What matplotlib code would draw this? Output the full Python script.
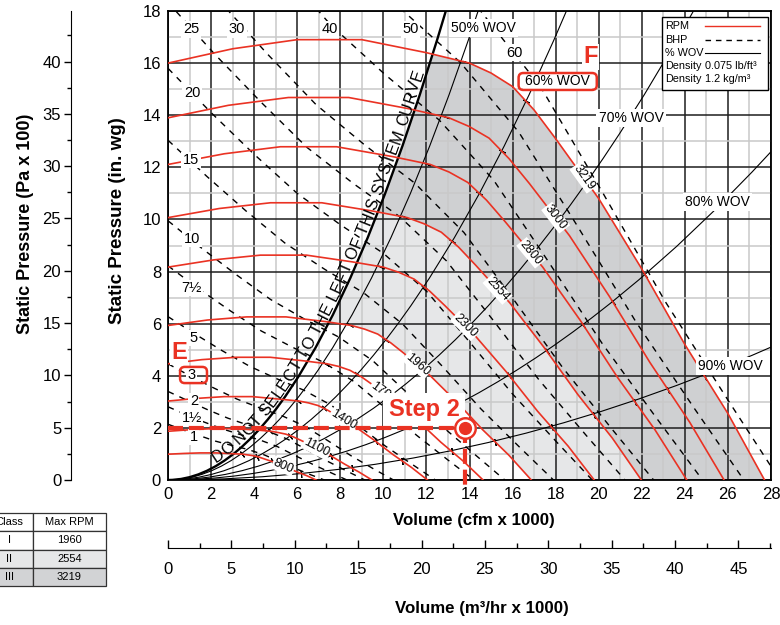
import numpy as np
import matplotlib
matplotlib.use("Agg")
import matplotlib.pyplot as plt
from matplotlib.path import Path
from matplotlib.patches import PathPatch, FancyBboxPatch, Rectangle
from matplotlib.lines import Line2D
from matplotlib.ticker import MultipleLocator
from matplotlib.font_manager import FontProperties

plt.rcParams['font.family'] = ['Liberation Sans', 'DejaVu Sans']

RED = '#ea3223'
DARK = '#cfd0d2'
LIGHT = '#e6e7e8'

# fan curves: volume (cfm x 1000) vs static pressure (in. wg)
rpm_values = [800, 1100, 1400, 1700, 1960, 2300, 2554, 2800, 3000, 3219]
q_800 = [0, 0.75, 1.49, 2.24, 2.98, 3.48, 3.73, 3.98, 4.22, 4.47, 4.97, 5.47, 5.96, 6.46, 6.88]
p_800 = [0.99, 1.02, 1.04, 1.04, 1.01, 0.99, 0.96, 0.93, 0.88, 0.81, 0.67, 0.50, 0.32, 0.16, 0]
q_1100 = [0, 1.03, 2.05, 3.08, 4.10, 4.78, 5.13, 5.47, 5.81, 6.15, 6.83, 7.52, 8.20, 8.88, 9.47]
p_1100 = [1.87, 1.93, 1.97, 1.97, 1.92, 1.87, 1.82, 1.76, 1.66, 1.53, 1.26, 0.95, 0.61, 0.30, 0]
q_1400 = [0, 1.30, 2.61, 3.91, 5.22, 6.09, 6.52, 6.96, 7.39, 7.83, 8.70, 9.57, 10.44, 11.31, 12.05]
p_1400 = [3.03, 3.13, 3.20, 3.20, 3.10, 3.03, 2.96, 2.86, 2.69, 2.48, 2.04, 1.53, 0.98, 0.48, 0]
q_1700 = [0, 1.58, 3.17, 4.75, 6.34, 7.39, 7.92, 8.45, 8.98, 9.51, 10.56, 11.62, 12.67, 13.73, 14.63]
p_1700 = [4.46, 4.62, 4.71, 4.71, 4.57, 4.46, 4.36, 4.21, 3.96, 3.65, 3.01, 2.26, 1.45, 0.71, 0]
q_1960 = [0, 1.83, 3.65, 5.48, 7.31, 8.52, 9.13, 9.74, 10.35, 10.96, 12.18, 13.40, 14.61, 15.83, 16.87]
p_1960 = [5.93, 6.14, 6.26, 6.26, 6.08, 5.93, 5.79, 5.60, 5.26, 4.86, 4.00, 3.00, 1.93, 0.95, 0]
q_2300 = [0, 2.14, 4.29, 6.43, 8.57, 10.00, 10.72, 11.43, 12.15, 12.86, 14.29, 15.72, 17.15, 18.58, 19.79]
p_2300 = [8.17, 8.45, 8.63, 8.63, 8.37, 8.17, 7.97, 7.71, 7.25, 6.69, 5.51, 4.14, 2.65, 1.30, 0]
q_2554 = [0, 2.38, 4.76, 7.14, 9.52, 11.11, 11.90, 12.69, 13.49, 14.28, 15.87, 17.45, 19.04, 20.63, 21.98]
p_2554 = [10.07, 10.42, 10.64, 10.64, 10.32, 10.07, 9.83, 9.51, 8.94, 8.25, 6.80, 5.10, 3.27, 1.61, 0]
q_2800 = [0, 2.61, 5.22, 7.83, 10.44, 12.18, 13.05, 13.92, 14.79, 15.66, 17.40, 19.14, 20.88, 22.61, 24.09]
p_2800 = [12.11, 12.52, 12.79, 12.79, 12.41, 12.11, 11.82, 11.42, 10.74, 9.91, 8.17, 6.13, 3.93, 1.93, 0]
q_3000 = [0, 2.80, 5.59, 8.39, 11.18, 13.05, 13.98, 14.91, 15.84, 16.78, 18.64, 20.50, 22.37, 24.23, 25.82]
p_3000 = [13.90, 14.38, 14.68, 14.68, 14.25, 13.90, 13.57, 13.12, 12.33, 11.38, 9.38, 7.04, 4.52, 2.21, 0]
q_3219 = [0, 3, 6, 9, 12, 14, 15, 16, 17, 18, 20, 22, 24, 26, 27.7]
p_3219 = [16.0, 16.55, 16.9, 16.9, 16.4, 16.0, 15.62, 15.1, 14.2, 13.1, 10.8, 8.1, 5.2, 2.55, 0]
rpm_label_q = [5.36, 6.9, 8.15, 10.0, 11.57, 13.8, 15.3, 16.85, 18.0, 19.3]

# brake horsepower lines
bhp_1_q = [0, 0.74, 1.47, 2.21, 2.95, 3.68, 4.42, 5.16, 5.89, 6.63, 7.26]
bhp_1_p = [2.14, 1.91, 1.70, 1.49, 1.33, 1.18, 0.98, 0.72, 0.45, 0.20, 0]
bhp_1_5_q = [0, 0.84, 1.69, 2.53, 3.37, 4.22, 5.06, 5.90, 6.75, 7.59, 8.31]
bhp_1_5_p = [2.81, 2.51, 2.22, 1.96, 1.74, 1.55, 1.29, 0.94, 0.59, 0.27, 0]
bhp_2_q = [0, 0.93, 1.86, 2.79, 3.71, 4.64, 5.57, 6.50, 7.43, 8.36, 9.14]
bhp_2_p = [3.40, 3.04, 2.69, 2.37, 2.11, 1.87, 1.56, 1.14, 0.71, 0.32, 0]
bhp_3_q = [0, 1.06, 2.13, 3.19, 4.25, 5.31, 6.38, 7.44, 8.50, 9.56, 10.47]
bhp_3_p = [4.46, 3.98, 3.53, 3.11, 2.77, 2.46, 2.05, 1.50, 0.93, 0.42, 0]
bhp_5_q = [0, 1.26, 2.52, 3.78, 5.04, 6.30, 7.56, 8.82, 10.08, 11.34, 12.41]
bhp_5_p = [6.27, 5.60, 4.96, 4.37, 3.89, 3.45, 2.88, 2.10, 1.31, 0.60, 0]
bhp_7_5_q = [0, 1.44, 2.88, 4.33, 5.77, 7.21, 8.65, 10.10, 11.54, 12.98, 14.21]
bhp_7_5_p = [8.22, 7.33, 6.50, 5.72, 5.10, 4.52, 3.77, 2.76, 1.72, 0.78, 0]
bhp_10_q = [0, 1.59, 3.17, 4.76, 6.35, 7.94, 9.52, 11.11, 12.70, 14.29, 15.64]
bhp_10_p = [9.95, 8.88, 7.88, 6.93, 6.17, 5.48, 4.57, 3.34, 2.08, 0.95, 0]
bhp_15_q = [0, 1.82, 3.63, 5.45, 7.27, 9.09, 10.90, 12.72, 14.54, 16.35, 17.90]
bhp_15_p = [13.04, 11.64, 10.32, 9.08, 8.09, 7.18, 5.98, 4.38, 2.72, 1.24, 0]
bhp_20_q = [0, 2, 4, 6, 8, 10, 12, 14, 16, 18, 19.7]
bhp_20_p = [15.8, 14.1, 12.5, 11.0, 9.8, 8.7, 7.25, 5.3, 3.3, 1.5, 0]
bhp_25_q = [0, 2.15, 4.31, 6.46, 8.62, 10.77, 12.93, 15.08, 17.24, 19.39, 21.22]
bhp_25_p = [18.33, 16.36, 14.51, 12.76, 11.37, 10.10, 8.41, 6.15, 3.83, 1.74, 0]
bhp_30_q = [2.29, 4.58, 6.87, 9.16, 11.45, 13.74, 16.03, 18.32, 20.60, 22.55]
bhp_30_p = [18.48, 16.38, 14.41, 12.84, 11.40, 9.50, 6.95, 4.32, 1.97, 0]
bhp_40_q = [5.04, 7.56, 10.08, 12.60, 15.12, 17.64, 20.16, 22.68, 24.82]
bhp_40_p = [19.84, 17.46, 15.56, 13.81, 11.51, 8.41, 5.24, 2.38, 0]
bhp_50_q = [8.14, 10.86, 13.57, 16.29, 19.00, 21.72, 24.43, 26.74]
bhp_50_p = [20.26, 18.05, 16.03, 13.35, 9.76, 6.08, 2.76, 0]
bhp_60_q = [11.54, 14.42, 17.31, 20.19, 23.08, 25.96, 28.41]
bhp_60_p = [20.38, 18.10, 15.08, 11.02, 6.86, 3.12, 0]
bhp_labels = ['1', '1½', '2', '3', '5', '7½', '10', '15', '20', '25', '30', '40', '50', '60']
bhp_label_q = [1.2, 1.1, 1.2, 1.1, 1.2, 1.1, 1.12, 1.07, 1.12, 1.07, 3.2, 7.5, 11.26, 16.1]
bhp_label_p = [1.65, 2.38, 3.03, 4.03, 5.45, 7.37, 9.25, 12.28, 14.85, 17.3, 17.3, 17.3, 17.3, 16.4]

# % wide open volume system curves (end points where they leave the grid)
wov_pct = [0.5, 0.6, 0.7, 0.8, 0.9]
wov_labels = ['50% WOV', '60% WOV', '70% WOV', '80% WOV', '90% WOV']
wov_end_q = [14.4, 18.5, 24.4, 28.0, 28.0]
wov_end_p = [18.0, 18.0, 18.0, 12.6, 5.1]
wov_label_q = [14.65, 18.09, 21.5, 25.5, 26.1]
wov_label_p = [17.35, 15.3, 13.9, 10.67, 4.38]

# limit system curve
sys_end_q, sys_end_p = 12.9, 18.0

# selected operating point (Step 2)
step_q, step_p = 13.8, 2.0

table_class = ['I', 'II', 'III']
table_rpm = ['1960', '2554', '3219']

fan_q = [q_800, q_1100, q_1400, q_1700, q_1960, q_2300, q_2554, q_2800, q_3000, q_3219]
fan_p = [p_800, p_1100, p_1400, p_1700, p_1960, p_2300, p_2554, p_2800, p_3000, p_3219]
bhp_q = [bhp_1_q, bhp_1_5_q, bhp_2_q, bhp_3_q, bhp_5_q, bhp_7_5_q, bhp_10_q,
         bhp_15_q, bhp_20_q, bhp_25_q, bhp_30_q, bhp_40_q, bhp_50_q, bhp_60_q]
bhp_p = [bhp_1_p, bhp_1_5_p, bhp_2_p, bhp_3_p, bhp_5_p, bhp_7_5_p, bhp_10_p,
         bhp_15_p, bhp_20_p, bhp_25_p, bhp_30_p, bhp_40_p, bhp_50_p, bhp_60_p]


def parabola(q_end, p_end):
    # system curve through the origin as a quadratic bezier
    return Path([(0, 0), (q_end / 2, 0), (q_end, p_end)],
                [Path.MOVETO, Path.CURVE3, Path.CURVE3])


fig = plt.figure(figsize=(7.8, 6.25), dpi=100)
ax = fig.add_axes([168 / 780, 1 - 480 / 625, 603 / 780, 469 / 625])
ax.set_xlim(0, 28)
ax.set_ylim(0, 18)

# grid
ax.set_axisbelow(True)
ax.set_xticks(range(0, 29, 2))
ax.set_yticks(range(0, 19, 2))
ax.xaxis.set_minor_locator(MultipleLocator(1))
ax.yaxis.set_minor_locator(MultipleLocator(1))
ax.grid(which='major', color='#1e1e1e', lw=1.1)
ax.grid(which='minor', color='#c9c9c9', lw=1.1)
ax.tick_params(which='both', length=0)
ax.tick_params(axis='x', labelsize=12, pad=5)
ax.tick_params(axis='y', labelsize=12, pad=5)
for s in ax.spines.values():
    s.set_linewidth(1.3)

# class shading, right of the limit system curve
clip_path = Path([(0, 0), (sys_end_q / 2, 0), (sys_end_q, sys_end_p), (28, sys_end_p), (28, 0), (0, 0)],
                 [Path.MOVETO, Path.CURVE3, Path.CURVE3, Path.LINETO, Path.LINETO, Path.CLOSEPOLY])
clip_patch = PathPatch(clip_path, transform=ax.transData)
dark = ax.fill(q_3219 + q_2554[::-1], p_3219 + p_2554[::-1], color=DARK, lw=0, zorder=0.2)[0]
light = ax.fill(q_2554 + q_1960[::-1], p_2554 + p_1960[::-1], color=LIGHT, lw=0, zorder=0.2)[0]
dark.set_clip_path(clip_patch)
light.set_clip_path(clip_patch)

# BHP lines
for qs, ps in zip(bhp_q, bhp_p):
    ax.plot(qs, ps, color='black', lw=1.0, ls=(0, (4.5, 4.5)), zorder=2)
for t, lq, lp in zip(bhp_labels, bhp_label_q, bhp_label_p):
    ax.text(lq, lp, t, ha='center', va='center', fontsize=10.5, zorder=4,
            bbox=dict(fc='white', ec='none', pad=1.0))

# WOV curves with small ticks where they cross each RPM curve
for pct, eq, ep in zip(wov_pct, wov_end_q, wov_end_p):
    ax.add_patch(PathPatch(parabola(eq, ep), fill=False, ec='black', lw=0.8, zorder=2))
    for qs, ps in zip(fan_q, fan_p):
        tq = pct * qs[-1]
        tp = np.interp(tq, qs, ps)
        if tq < 28 and tp < 18:
            a = ax.transData.transform([(tq, tp), (tq * 1.01, tp * 1.0201)])
            ang = np.degrees(np.arctan2(a[1, 1] - a[0, 1], a[1, 0] - a[0, 0]))
            ax.plot([tq], [tp], marker=(2, 2, ang), ms=5, mew=0.8, color='black', zorder=2)
for t, lq, lp in zip(wov_labels, wov_label_q, wov_label_p):
    ax.text(lq, lp, t, ha='center', va='center', fontsize=10, zorder=5,
            bbox=dict(fc='white', ec='none', pad=1.5))

# limit system curve
sys_path = parabola(sys_end_q, sys_end_p)
ax.add_patch(PathPatch(sys_path, fill=False, ec='black', lw=1.7, zorder=3))

# fan RPM curves
for rpm, qs, ps, lq in zip(rpm_values, fan_q, fan_p, rpm_label_q):
    ax.plot(qs, ps, color=RED, lw=1.2, zorder=3)
    lp = np.interp(lq, qs, ps)
    x0, y0 = ax.transData.transform((lq - 0.3, np.interp(lq - 0.3, qs, ps)))
    x1, y1 = ax.transData.transform((lq + 0.3, np.interp(lq + 0.3, qs, ps)))
    ang = np.degrees(np.arctan2(y1 - y0, x1 - x0))
    ax.text(lq, lp, str(rpm), rotation=ang, rotation_mode='anchor', ha='center', va='center',
            fontsize=9, zorder=4, bbox=dict(fc='white', ec='none', pad=0.6))

# legend box
ax.add_patch(Rectangle((0.8193, 0.8316), 0.1757, 0.1555, transform=ax.transAxes,
                       fc='white', ec='black', lw=1.0, zorder=6))
leg_rows = [0.968, 0.938, 0.911, 0.883, 0.854]
ax.text(0.824, leg_rows[0], 'RPM', transform=ax.transAxes, fontsize=7.8, va='center', zorder=7)
ax.text(0.824, leg_rows[1], 'BHP', transform=ax.transAxes, fontsize=7.8, va='center', zorder=7)
ax.text(0.824, leg_rows[2], '% WOV', transform=ax.transAxes, fontsize=7.8, va='center', zorder=7)
ax.text(0.824, leg_rows[3], 'Density', transform=ax.transAxes, fontsize=7.8, va='center', zorder=7)
ax.text(0.824, leg_rows[4], 'Density', transform=ax.transAxes, fontsize=7.8, va='center', zorder=7)
ax.text(0.891, leg_rows[3], '0.075 lb/ft³', transform=ax.transAxes, fontsize=7.8, va='center', zorder=7)
ax.text(0.891, leg_rows[4], '1.2 kg/m³', transform=ax.transAxes, fontsize=7.8, va='center', zorder=7)
ax.add_line(Line2D([0.891, 0.982], [leg_rows[0]] * 2, transform=ax.transAxes, color=RED, lw=1.0, zorder=7))
ax.add_line(Line2D([0.891, 0.982], [leg_rows[1]] * 2, transform=ax.transAxes, color='black', lw=1.0,
                   ls=(0, (4, 3.5)), zorder=7))
ax.add_line(Line2D([0.891, 0.982], [leg_rows[2]] * 2, transform=ax.transAxes, color='black', lw=0.8, zorder=7))

# annotations E / F / Step 2
ax.add_patch(FancyBboxPatch((0.56, 3.72), 1.25, 0.62, boxstyle='round,pad=0,rounding_size=0.22',
                            mutation_aspect=0.825, fc='none', ec=RED, lw=1.8, zorder=5))
ax.add_patch(FancyBboxPatch((16.28, 14.97), 3.63, 0.65, boxstyle='round,pad=0,rounding_size=0.22',
                            mutation_aspect=0.825, fc='none', ec=RED, lw=1.8, zorder=6))
ax.text(0.51, 4.88, 'E', color=RED, fontsize=17, fontweight='bold', ha='center', va='center',
        zorder=8, clip_on=False, bbox=dict(fc='white', ec='none', pad=0.5))
ax.text(19.63, 16.24, 'F', color=RED, fontsize=17, fontweight='bold', ha='center', va='center',
        zorder=8, bbox=dict(fc='white', ec='none', pad=1.0))
ax.text(11.9, 2.69, 'Step 2', color=RED, fontsize=17, fontweight='bold', ha='center', va='center',
        zorder=8, bbox=dict(fc='white', ec='none', pad=4))
ax.plot([0, step_q], [step_p, step_p], color=RED, lw=3, ls=(0, (3.6, 1.4)), zorder=8, clip_on=False)
ax.plot([step_q, step_q], [step_p, -0.2], color=RED, lw=3, ls=(0, (3.6, 1.4)), zorder=8, clip_on=False)
ax.plot([step_q], [step_p], 'o', ms=15.5, mfc=RED, mec=RED, zorder=9)
ax.plot([step_q], [step_p], 'o', ms=12, mfc='white', mec='white', zorder=9)
ax.plot([step_q], [step_p], 'o', ms=8.5, mfc=RED, mec=RED, zorder=9)

# axis labels
ax.set_xlabel('Volume (cfm x 1000)', fontsize=12.2, fontweight='bold')
ax.xaxis.set_label_coords(0.508, -0.0704)
ax.set_ylabel('Static Pressure (in. wg)', fontsize=13.5, fontweight='bold')
ax.yaxis.set_label_coords(-0.0697, 0.554)

pa = ax.secondary_yaxis(-0.161, functions=(lambda p: p * 2.4909, lambda p: p / 2.4909))
pa.set_yticks(np.arange(0, 45, 5))
pa.yaxis.set_minor_locator(MultipleLocator(2.5))
pa.tick_params(which='major', length=5, width=1, labelsize=12, pad=2)
pa.tick_params(which='minor', length=3, width=1)
pa.set_ylabel('Static Pressure (Pa x 100)', fontsize=13, fontweight='bold')
pa.yaxis.set_label_coords(-0.222, 0.546, transform=ax.transAxes)

m3 = ax.secondary_xaxis(-0.145, functions=(lambda q: q * 1.699, lambda q: q / 1.699))
m3.set_xticks(np.arange(0, 50, 5))
m3.xaxis.set_minor_locator(MultipleLocator(2.5))
m3.tick_params(which='major', direction='in', length=6, width=1, labelsize=12, pad=10)
m3.tick_params(which='minor', direction='in', length=3.5, width=1)
m3.set_xlabel('Volume (m³/hr x 1000)', fontsize=12.2, fontweight='bold')
m3.xaxis.set_label_coords(0.521, -0.258, transform=ax.transAxes)

# class table
tax = fig.add_axes([-14 / 780, (625 - 586) / 625, (106 + 14) / 780, (586 - 513) / 625])
tax.axis('off')
tbl = tax.table(cellText=[[c, r] for c, r in zip(table_class, table_rpm)],
                colLabels=['Class', 'Max RPM'], cellLoc='center', bbox=[0, 0, 1, 1],
                colWidths=[0.39, 0.61])
tbl.auto_set_font_size(False)
tbl.set_fontsize(8)
row_colors = ['white', 'white', '#e6e7e8', '#d2d3d5']
for (r, c), cell in tbl.get_celld().items():
    cell.set_facecolor(row_colors[r])
    cell.set_edgecolor('#333333')
    cell.set_linewidth(0.9)

# curved warning text along the limit system curve
fig.canvas.draw()
renderer = fig.canvas.get_renderer()
fsize = 11.8
fp = FontProperties(family='Liberation Sans', size=fsize)
disp = ax.transData.transform_path(sys_path)
pts = np.vstack([seg(np.linspace(0, 1, 400)) for seg, code in disp.iter_bezier() if code == Path.CURVE3])
d = np.diff(pts, axis=0)
arc = np.concatenate([[0], np.cumsum(np.hypot(d[:, 0], d[:, 1]))])
tang = np.arctan2(d[:, 1], d[:, 0])
tang = np.concatenate([tang, tang[-1:]])


def tw(s):
    return renderer.get_text_width_height_descent(s, fp, ismath=False)[0]


warn = 'DO NOT SELECT TO THE LEFT OF THIS SYSTEM CURVE'
space_w = 0.278 * fsize * fig.dpi / 72
s = np.interp(ax.transData.transform((2.3, 0))[0], pts[:, 0], arc)
for ch in warn:
    adv = space_w if ch == ' ' else tw(ch) + 0.2
    sc = s + adv / 2
    x = np.interp(sc, arc, pts[:, 0])
    y = np.interp(sc, arc, pts[:, 1])
    th = np.interp(sc, arc, tang)
    x -= np.sin(th) * 3.0
    y += np.cos(th) * 3.0
    if ch != ' ':
        dq, dp = ax.transData.inverted().transform((x, y))
        ax.text(dq, dp, ch, fontproperties=fp, rotation=np.degrees(th), rotation_mode='anchor',
                ha='center', va='baseline', zorder=4)
    s += adv

fig.savefig('out.png', dpi=100)
